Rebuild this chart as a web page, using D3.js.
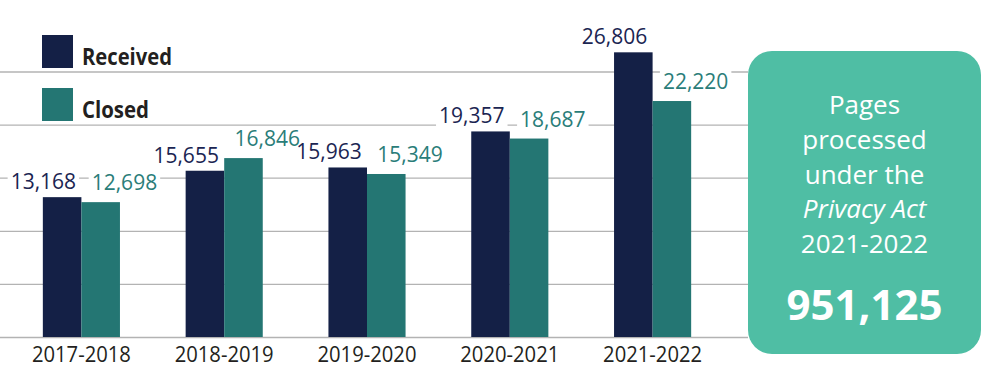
<!DOCTYPE html>
<html>
<head>
<meta charset="utf-8">
<script src="https://cdn.jsdelivr.net/npm/d3@7"></script>
<style>
  body { margin: 0; background: #fff; }
  svg { display: block; font-family: "Open Sans", sans-serif; }
</style>
</head>
<body>
<div id="chart"></div>
<script>
const years = ['2017-2018', '2018-2019', '2019-2020', '2020-2021', '2021-2022'];
const received = [13168, 15655, 15963, 19357, 26806];
const closed = [12698, 16846, 15349, 18687, 22220];
const gridTicks = [5000, 10000, 15000, 20000, 25000];
const seriesNames = ['Received', 'Closed'];
const boxLines = ['Pages', 'processed', 'under the', 'Privacy Act', '2021-2022'];
const boxTotal = '951,125';

const width = 1000;
const height = 385;
const navy = '#142046';
const teal = '#247673';
const boxColor = '#4fbea4';

const svg = d3.select('#chart')
  .append('svg')
  .attr('width', width)
  .attr('height', height)

const xScale = d3.scaleBand()
  .domain(years)
  .range([0, 734])
  .paddingInner(0.46)
  .paddingOuter(0.30)

const sub = d3.scaleBand()
  .domain(seriesNames)
  .range([0, xScale.bandwidth()])

const yScale = d3.scaleLinear()
  .domain([0, 25000])
  .range([337, 71.5])

// grid lines
svg.append('g')
  .selectAll('line')
  .data([0].concat(gridTicks))
  .enter()
  .append('line')
  .attr('x1', 0)
  .attr('x2', 748)
  .attr('y1', d => yScale(d) + 0.5)
  .attr('y2', d => yScale(d) + 0.5)
  .attr('stroke', '#b3b3b3')
  .attr('stroke-width', 1.3)

const rows = years.map((y, i) => ({ year: y, Received: received[i], Closed: closed[i] }))

const groups = svg.append('g')
  .selectAll('g')
  .data(rows)
  .enter()
  .append('g')
  .attr('transform', d => `translate(${xScale(d.year)},0)`)

groups.selectAll('rect')
  .data(d => seriesNames.map(k => ({ key: k, value: d[k] })))
  .enter()
  .append('rect')
  .attr('x', d => sub(d.key))
  .attr('y', d => yScale(d.value))
  .attr('width', sub.bandwidth())
  .attr('height', d => yScale(0) - yScale(d.value))
  .attr('fill', d => d.key === 'Received' ? navy : teal)

// value labels with white backing
const fmt = d3.format(',')
const bgLayer = svg.append('g')
const labLayer = svg.append('g')
rows.forEach(d => {
  const x0 = xScale(d.year)
  seriesNames.forEach(k => {
    const isRec = k === 'Received'
    const cx = x0 + sub(k) + sub.bandwidth() / 2
    const lab = labLayer.append('text')
      .attr('x', isRec ? cx + 14 : cx - 9)
      .attr('y', yScale(d[k]) - (isRec ? 8 : 12))
      .attr('text-anchor', isRec ? 'end' : 'start')
      .attr('font-size', 21)
      .attr('fill', isRec ? '#1b2552' : '#2a7d79')
      .text(fmt(d[k]))
    const bb = lab.node().getBBox()
    bgLayer.append('rect')
      .attr('x', bb.x - 3)
      .attr('y', bb.y + 4)
      .attr('width', bb.width + 6)
      .attr('height', bb.height - 6)
      .attr('fill', '#fff')
  })
})

// x axis labels
svg.append('g')
  .selectAll('text')
  .data(years)
  .enter()
  .append('text')
  .attr('x', d => xScale(d) + xScale.bandwidth() / 2)
  .attr('y', 362)
  .attr('text-anchor', 'middle')
  .attr('font-size', 22)
  .attr('fill', '#231f20')
  .attr('textLength', 99)
  .attr('lengthAdjust', 'spacingAndGlyphs')
  .text(d => d)

// legend
const legend = svg.append('g')
  .selectAll('g')
  .data(seriesNames)
  .enter()
  .append('g')
  .attr('transform', (d, i) => `translate(42,${35 + i * 53})`)

legend.append('rect')
  .attr('width', 31)
  .attr('height', 33)
  .attr('fill', d => d === 'Received' ? navy : teal)

legend.append('text')
  .attr('x', 40)
  .attr('y', 30)
  .attr('font-size', 24)
  .attr('font-weight', 'bold')
  .attr('fill', '#231f20')
  .attr('textLength', d => d === 'Received' ? 90 : 67)
  .attr('lengthAdjust', 'spacingAndGlyphs')
  .text(d => d)

// summary box
const box = svg.append('g')
box.append('rect')
  .attr('x', 748)
  .attr('y', 51)
  .attr('width', 233)
  .attr('height', 303)
  .attr('rx', 24)
  .attr('fill', boxColor)

box.selectAll('text.line')
  .data(boxLines)
  .enter()
  .append('text')
  .attr('class', 'line')
  .attr('x', 864.5)
  .attr('y', (d, i) => 114 + i * 34.8)
  .attr('text-anchor', 'middle')
  .attr('font-size', 26)
  .attr('font-style', d => d === 'Privacy Act' ? 'italic' : 'normal')
  .attr('fill', '#fff')
  .text(d => d)

box.append('text')
  .attr('x', 864.5)
  .attr('y', 320)
  .attr('text-anchor', 'middle')
  .attr('font-size', 42)
  .attr('font-weight', 'bold')
  .attr('fill', '#fff')
  .text(boxTotal)
</script>
</body>
</html>
